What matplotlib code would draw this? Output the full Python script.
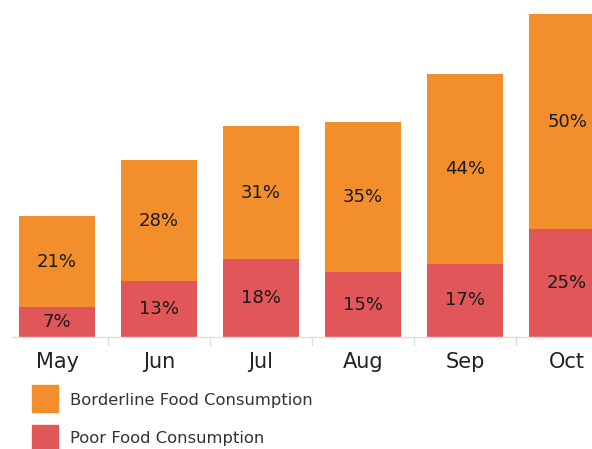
import matplotlib.pyplot as plt
from matplotlib.patches import Rectangle

months = ['May', 'Jun', 'Jul', 'Aug', 'Sep', 'Oct']
poor = [7, 13, 18, 15, 17, 25]
borderline = [21, 28, 31, 35, 44, 50]

orange = '#F28E2B'
red = '#E15759'

plt.rcParams['font.family'] = ['DejaVu Sans']

W, H = 592, 449
fig = plt.figure(figsize=(W / 100, H / 100), dpi=100)
ax = fig.add_axes([0, (H - 337) / H, 1, 337 / H])

x = range(len(months))
ax.bar(x, poor, width=0.745, color=red)
ax.bar(x, borderline, width=0.745, bottom=poor, color=orange)

for i in x:
    ax.text(i, poor[i] / 2, f'{poor[i]}%', ha='center', va='center',
            fontsize=13, color='#1a1a1a')
    ax.text(i, poor[i] + borderline[i] / 2, f'{borderline[i]}%', ha='center',
            va='center', fontsize=13, color='#1a1a1a')
    ax.text(i, -5.8, months[i], ha='center', va='center', fontsize=15,
            color='#222222', clip_on=False)

ax.set_xlim(-57 / 102, (592 - 57) / 102)
ax.set_ylim(0, 78.25)

# baseline and separators
ax.plot([-0.43, 5.3], [0, 0], color='#dddddd', lw=1, clip_on=False)
for i in range(len(months) - 1):
    ax.plot([i + 0.5, i + 0.5], [0, -1.8], color='#dddddd', lw=1, clip_on=False)

ax.axis('off')

# legend
fig.patches.append(Rectangle((32 / W, 1 - 412 / H), 26 / W, 27 / H,
                             transform=fig.transFigure, color=orange))
fig.patches.append(Rectangle((32 / W, 1 - 452 / H), 26 / W, 27 / H,
                             transform=fig.transFigure, color=red))
fig.text(70 / W, 1 - 400 / H, 'Borderline Food Consumption', va='center',
         fontsize=11.8, color='#333333')
fig.text(70 / W, 1 - 439 / H, 'Poor Food Consumption', va='center',
         fontsize=11.8, color='#333333')

fig.savefig('out.png', dpi=100)
